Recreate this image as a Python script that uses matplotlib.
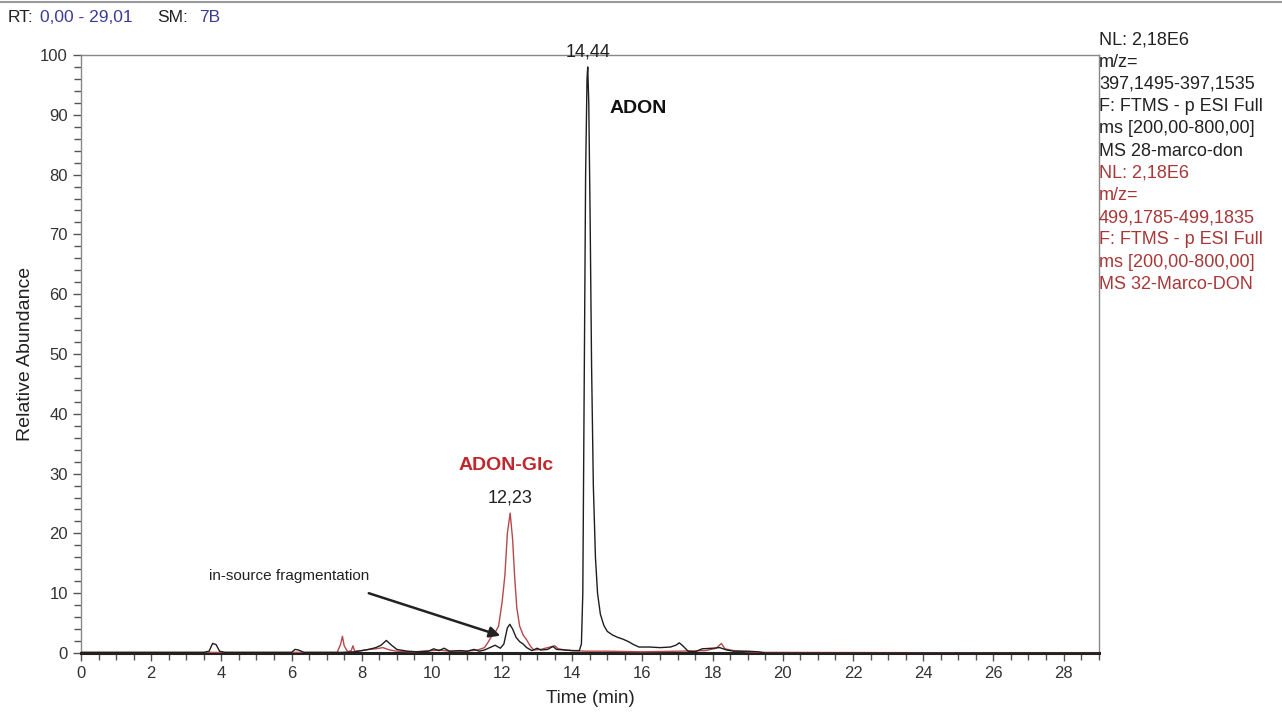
import matplotlib
matplotlib.use("Agg")
import matplotlib.pyplot as plt
from matplotlib.ticker import MultipleLocator
from matplotlib.lines import Line2D

plt.rcParams['font.family'] = ['Liberation Sans', 'DejaVu Sans']

# ---- data ----
adon_t = [0.0, 3.5, 3.65, 3.75, 3.85, 3.95, 4.1, 6.0, 6.1, 6.2, 6.35, 7.4, 7.8, 8.0, 8.2, 8.4,
          8.55, 8.7, 8.85, 9.0, 9.3, 9.6, 9.9, 10.05, 10.2, 10.35, 10.5, 10.8, 11.0, 11.2, 11.35,
          11.5, 11.65, 11.8, 11.95, 12.05, 12.15, 12.22, 12.3, 12.4, 12.5, 12.6, 12.7, 12.85,
          13.0, 13.1, 13.3, 13.45, 13.55, 13.8, 14.0, 14.2, 14.26, 14.3, 14.34, 14.38, 14.42,
          14.44, 14.47, 14.51, 14.55, 14.6, 14.66, 14.72, 14.8, 14.9, 15.0, 15.15, 15.3, 15.45,
          15.6, 15.75, 15.9, 16.2, 16.5, 16.8, 16.95, 17.05, 17.15, 17.3, 17.5, 17.7, 18.0,
          18.2, 18.4, 18.6, 19.0, 19.3, 19.5, 29.0]
adon_y = [0.1, 0.1, 0.3, 1.6, 1.4, 0.3, 0.1, 0.1, 0.6, 0.5, 0.1, 0.1, 0.2, 0.4, 0.6, 0.9,
          1.3, 2.1, 1.3, 0.6, 0.3, 0.2, 0.3, 0.7, 0.4, 0.8, 0.3, 0.4, 0.3, 0.6, 0.3,
          0.5, 0.9, 1.3, 0.8, 1.5, 4.2, 4.8, 4.0, 2.6, 1.9, 1.5, 0.9, 0.4,
          0.8, 0.5, 0.6, 1.1, 0.6, 0.5, 0.4, 0.4, 1.5, 10, 45, 80, 96,
          98, 92, 72, 48, 28, 16, 10, 6.5, 4.6, 3.6, 3.0, 2.6, 2.3,
          1.9, 1.4, 1.0, 1.0, 0.9, 1.0, 1.3, 1.7, 1.2, 0.3, 0.2, 0.7, 0.8,
          0.9, 0.5, 0.3, 0.3, 0.2, 0.0, 0.0]

glc_t = [0.0, 7.3, 7.4, 7.45, 7.5, 7.6, 7.7, 7.75, 7.8, 8.0, 8.2, 8.4, 8.6, 8.8, 9.0, 9.5,
         10.0, 10.2, 10.5, 11.0, 11.3, 11.5, 11.6, 11.7, 11.8, 11.9, 12.0, 12.08, 12.15, 12.23,
         12.3, 12.36, 12.42, 12.5, 12.6, 12.7, 12.8, 12.9, 13.1, 13.3, 13.5, 13.6, 13.8, 14.0,
         14.4, 15.0, 16.0, 17.0, 17.8, 18.1, 18.25, 18.35, 18.6, 19.0, 19.3, 29.0]
glc_y = [0.1, 0.1, 1.5, 2.8, 1.2, 0.2, 0.4, 1.2, 0.3, 0.4, 0.6, 0.7, 0.9, 0.5, 0.3, 0.2,
         0.4, 0.5, 0.3, 0.3, 0.5, 0.9, 1.8, 2.8, 3.4, 4.5, 8.5, 13, 20, 23.4,
         19, 12.5, 7.5, 4.5, 3.0, 2.2, 1.2, 0.5, 0.6, 0.9, 1.2, 0.7, 0.5, 0.4,
         0.3, 0.3, 0.2, 0.3, 0.4, 0.8, 1.6, 0.7, 0.4, 0.2, 0.1, 0.0]

peak_labels = [(14.44, 98, "14,44"), (12.23, 23.4, "12,23")]

header_black = ["NL: 2,18E6", "m/z=", "397,1495-397,1535", "F: FTMS - p ESI Full",
                "ms [200,00-800,00]", "MS 28-marco-don"]
header_red = ["NL: 2,18E6", "m/z=", "499,1785-499,1835", "F: FTMS - p ESI Full",
              "ms [200,00-800,00]", "MS 32-Marco-DON"]

# ---- figure ----
W, H = 1282, 715
fig = plt.figure(figsize=(W / 100, H / 100), dpi=100)
ax = fig.add_axes([81 / W, 1 - 653 / H, (1099 - 81) / W, (653 - 55) / H])

black = '#1e1e1e'
red = '#b8484a'
ax.plot(glc_t, glc_y, color=red, lw=1.0, zorder=3)
ax.plot(adon_t, adon_y, color=black, lw=1.0, zorder=4)

ax.set_xlim(0, 29.01)
ax.set_ylim(0, 100)
ax.xaxis.set_major_locator(MultipleLocator(2))
ax.xaxis.set_minor_locator(MultipleLocator(0.5))
ax.yaxis.set_major_locator(MultipleLocator(10))
ax.yaxis.set_minor_locator(MultipleLocator(2))
ax.tick_params(which='both', direction='out', color='#555555', labelcolor='#333333',
               labelsize=12)
ax.tick_params(which='major', length=6, width=1)
ax.tick_params(which='minor', length=5, width=1)
for s in ['top', 'right', 'left']:
    ax.spines[s].set_color('#888888')
    ax.spines[s].set_linewidth(1.0)
ax.spines['bottom'].set_color('#222222')
ax.spines['bottom'].set_linewidth(2.2)
ax.set_xlabel("Time (min)", fontsize=13.5, color='#222222', labelpad=6)
ax.set_ylabel("Relative Abundance", fontsize=14, color='#222222', labelpad=4)

for x, y, t in peak_labels:
    ax.annotate(t, (x, y), xytext=(0, 5), textcoords='offset points', ha='center',
                va='bottom', fontsize=13, color='#222222', annotation_clip=False)

cond = ['Liberation Sans Narrow', 'Liberation Sans', 'DejaVu Sans']
ax.text(15.05, 91, "ADON", fontsize=14, fontweight='bold', color='#111111',
        family=cond, ha='left', va='center')
ax.text(10.75, 31.3, "ADON-Glc", fontsize=14, fontweight='bold', color='#c0282d',
        family=cond, ha='left', va='center')
ax.text(3.65, 12.9, "in-source fragmentation", fontsize=11, color='#222222',
        family=cond, ha='left', va='center')
ax.annotate("", xy=(11.95, 2.9), xytext=(8.2, 10.0),
            arrowprops=dict(arrowstyle='-|>', color='#222222', lw=1.8,
                            mutation_scale=16, shrinkA=0, shrinkB=0))

# header
fig.text(8 / W, 1 - 17 / H, "RT:", fontsize=12.5, color='#222222', va='center')
fig.text(40 / W, 1 - 17 / H, "0,00 - 29,01", fontsize=12.5, color='#3c3c96', va='center')
fig.text(157 / W, 1 - 17 / H, "SM:", fontsize=12.5, color='#222222', va='center')
fig.text(199 / W, 1 - 17 / H, "7B", fontsize=12.5, color='#3c3c96', va='center')
fig.add_artist(Line2D([0, 1], [1 - 2 / H, 1 - 2 / H], color='#999999', lw=1.5))

# right info block
y0 = 40
for i, t in enumerate(header_black + header_red):
    col = '#222222' if i < 6 else '#a83838'
    fig.text(1099 / W, 1 - (y0 + i * 22.2) / H, t, fontsize=13, color=col,
             va='center', ha='left')

fig.savefig("out.png", dpi=100)
